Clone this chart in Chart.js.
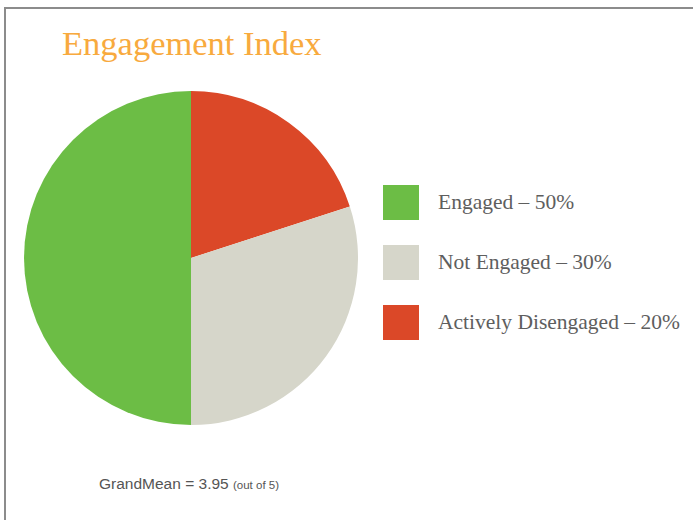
<!DOCTYPE html>
<html>
<head>
<meta charset="utf-8">
<script src="https://cdn.jsdelivr.net/npm/chart.js@4"></script>
<style>
  body { margin: 0; background: #fff; }
  #frame {
    position: absolute; left: 4px; top: 7px; width: 689px; height: 513px;
    border-top: 2px solid #8c8c8c; border-left: 2px solid #8c8c8c;
  }
  #title {
    position: absolute; left: 62px; top: 24px;
    font-family: "Liberation Serif", serif; font-size: 34.5px; color: #f8aa3e;
    white-space: nowrap;
  }
  #pieBox { position: absolute; left: 24px; top: 91px; width: 334px; height: 334px; }
  #legend { position: absolute; left: 383px; top: 185px; }
  .item { position: relative; height: 60px; }
  .swatch { position: absolute; left: 0; top: 0; width: 36px; height: 35px; }
  .label {
    position: absolute; left: 55px; top: 5px; white-space: nowrap;
    font-family: "Liberation Serif", serif; font-size: 21.5px; color: #5e5e5e;
  }
  #footer {
    position: absolute; left: 99px; top: 475px; white-space: nowrap;
    font-family: "Liberation Sans", Arial, sans-serif; font-size: 15.5px; color: #555;
  }
  #footer small { font-size: 11.5px; }
</style>
</head>
<body>
<div id="frame"></div>
<div id="title">Engagement Index</div>
<div id="pieBox"><canvas id="pieChart" width="334" height="334"></canvas></div>
<div id="legend"></div>
<div id="footer">GrandMean = 3.95 <small>(out of 5)</small></div>
<script>
// legend order
const labels = ['Engaged', 'Not Engaged', 'Actively Disengaged'];
const values = [50, 30, 20];
const colors = ['#6cbd45', '#d6d6ca', '#db4828'];

// pie is drawn clockwise from the top, starting with the red slice
const order = [2, 1, 0];

const ctx = document.getElementById('pieChart').getContext('2d');
new Chart(ctx, {
  type: 'pie',
  data: {
    labels: order.map(i => labels[i]),
    datasets: [{
      data: order.map(i => values[i]),
      backgroundColor: order.map(i => colors[i]),
      borderWidth: 0,
      hoverOffset: 0
    }]
  },
  options: {
    responsive: false,
    animation: false,
    layout: { padding: 0 },
    plugins: {
      legend: { display: false },
      tooltip: { enabled: false }
    }
  }
});

// legend on the right
const legend = document.getElementById('legend');
labels.forEach((name, i) => {
  const row = document.createElement('div');
  row.className = 'item';
  row.innerHTML = '<div class="swatch" style="background:' + colors[i] + '"></div>' +
    '<div class="label">' + name + ' \u2013 ' + values[i] + '%</div>';
  legend.appendChild(row);
});
</script>
</body>
</html>
